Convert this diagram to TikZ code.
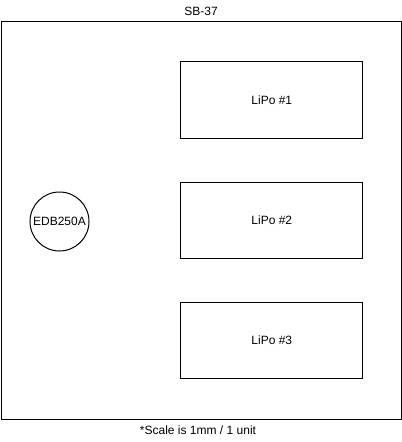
\documentclass[tikz,border=0pt]{standalone}
\usepackage{fontspec}
\setmainfont{Liberation Sans}
\begin{document}
\begin{tikzpicture}[x=0.75pt,y=-0.75pt,
  lbl/.style={font=\fontsize{9}{11}\selectfont, inner sep=0pt},
  box/.style={draw=black, line width=0.75pt, minimum width=182*0.75pt, minimum height=76.5*0.75pt, font=\fontsize{9}{11}\selectfont, inner sep=0pt, anchor=north west},
  circ/.style={draw=black, line width=0.75pt, circle, minimum size=59*0.75pt, font=\fontsize{9}{11}\selectfont, inner sep=0pt}]
\useasboundingbox (0,0) rectangle (402,442);
\node[draw=black, line width=0.75pt, anchor=north west, minimum width=399.5*0.75pt, minimum height=398.5*0.75pt, inner sep=0pt] (outer) at (1,20.75) {};
\node[lbl] (title) at (201,11.5) {SB-37};
\node[box] (l1) at (180.3,61.3) {LiPo \#1};
\node[box] (l2) at (180.3,181.8) {LiPo \#2};
\node[box] (l3) at (180.3,301.8) {LiPo \#3};
\node[circ] (edb) at (59.5,221.5) {EDB250A};
\node[lbl] (scale) at (198,430.5) {*Scale is 1mm / 1 unit};
\end{tikzpicture}
\end{document}
